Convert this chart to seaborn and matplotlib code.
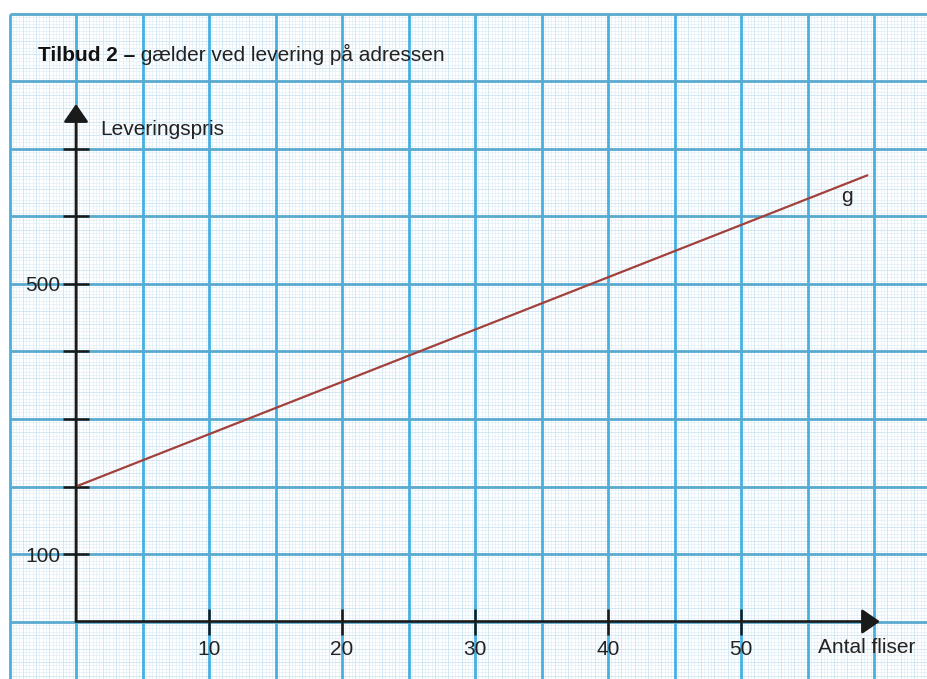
import numpy as np
import pandas as pd
import matplotlib
matplotlib.use("Agg")
import matplotlib.pyplot as plt
import seaborn as sns

# ---- data ----
antal_fliser = [0, 59.5]          # x: number of tiles
leveringspris = [200, 661]        # y: delivery price
x_ticks = [10, 20, 30, 40, 50]
x_labels = ["10", "20", "30", "40", "50"]
y_ticks = [100, 200, 300, 400, 500, 600, 700]
y_labels = ["100", "", "", "", "500", "", ""]

title_bold = "Tilbud 2 –"
title_rest = "gælder ved levering på adressen"
y_title = "Leveringspris"
x_title = "Antal fliser"
line_label = "g"

sns.set_style("white")
plt.rcParams["font.family"] = ["Liberation Sans", "DejaVu Sans"]

W, H = 928, 679
FS = 15
fig = plt.figure(figsize=(W / 100, H / 100), dpi=100)
ax = fig.add_axes([0, 0, 1, 1])
ax.set_axisbelow(False)

# pixel geometry of the reference
x0_px, sx = 76.0, 13.3       # x=0 at px 76, 13.3 px per unit
y0_px, sy = 621.5, 0.675     # y=0 at px 621.5, 0.675 px per unit
X = lambda px: (px - x0_px) / sx
Y = lambda py: (y0_px - py) / sy
ax.set_xlim(X(0), X(W))
ax.set_ylim(Y(H), Y(0))
ax.set_facecolor("white")

# ---- graph paper ----
gx0, gy1 = -5, 900
xr, yb = X(W), Y(H)
fine_x = np.arange(gx0, xr + 0.01, 0.25)
fine_y = np.concatenate([np.arange(-5, yb - 0.01, -5), np.arange(0, gy1 + 0.01, 5)])
ax.vlines(fine_x, yb, gy1, color="#e0eff7", lw=0.5, zorder=0)
ax.hlines(fine_y, gx0, xr, color="#e0eff7", lw=0.5, zorder=0)
mid_x = np.arange(gx0, xr + 0.01, 1)
mid_y = np.concatenate([np.arange(-20, yb - 0.01, -20), np.arange(0, gy1 + 0.01, 20)])
ax.vlines(mid_x, yb, gy1, color="#d0e7f3", lw=0.6, zorder=0)
ax.hlines(mid_y, gx0, xr, color="#d0e7f3", lw=0.6, zorder=0)
ax.vlines(np.arange(gx0, xr + 0.01, 5), yb, gy1, color="#45b0e2", lw=2.0, zorder=1)
ax.hlines(np.arange(0, gy1 + 0.01, 100), gx0, xr, color="#5aaad0", lw=2.0, zorder=1)

# ---- data line ----
df = pd.DataFrame({"antal": antal_fliser, "pris": leveringspris})
sns.lineplot(data=df, x="antal", y="pris", color="#a2413c", lw=1.6, ax=ax, zorder=4)

# ---- axes with arrows ----
axc = "#1a1a1a"
ax.annotate("", xy=(0, Y(104)), xytext=(0, 0),
            arrowprops=dict(arrowstyle="-|>,head_length=0.55,head_width=0.38",
                            lw=1.9, color=axc, mutation_scale=20, shrinkA=0, shrinkB=0),
            zorder=5)
ax.annotate("", xy=(X(880), 0), xytext=(0, 0),
            arrowprops=dict(arrowstyle="-|>,head_length=0.55,head_width=0.38",
                            lw=1.9, color=axc, mutation_scale=20, shrinkA=0, shrinkB=0),
            zorder=5)

for s in ["top", "right"]:
    ax.spines[s].set_visible(False)
ax.spines["left"].set_position(("data", 0))
ax.spines["bottom"].set_position(("data", 0))
ax.spines["left"].set_visible(False)
ax.spines["bottom"].set_visible(False)

ax.set_xticks(x_ticks)
ax.set_xticklabels(x_labels)
ax.set_yticks(y_ticks)
ax.set_yticklabels(y_labels)
ax.tick_params(axis="both", which="major", direction="inout", length=19, width=1.8,
               colors=axc, labelsize=FS, labelcolor="#222222",
               bottom=True, left=True, top=False, right=False)
ax.tick_params(axis="x", pad=4)
ax.tick_params(axis="y", pad=2)
ax.set_xlabel("")
ax.set_ylabel("")

# ---- texts ----
t1 = fig.text(38 / W, 1 - 61 / H, title_bold, fontsize=FS, fontweight="bold",
              color="#111111", va="baseline", ha="left")
ax.annotate(" " + title_rest, xy=(1, 0), xycoords=t1, va="bottom", ha="left",
            fontsize=FS, color="#222222")
fig.text(100 / W, 1 - 135 / H, y_title, fontsize=FS, color="#222222",
         va="baseline", ha="left")
fig.text(818 / W, 1 - 653 / H, x_title, fontsize=FS, color="#222222",
         va="baseline", ha="left")
fig.text(841 / W, 1 - 202 / H, line_label, fontsize=FS, color="#222222",
         va="baseline", ha="left")

fig.savefig("out.png", dpi=100)
